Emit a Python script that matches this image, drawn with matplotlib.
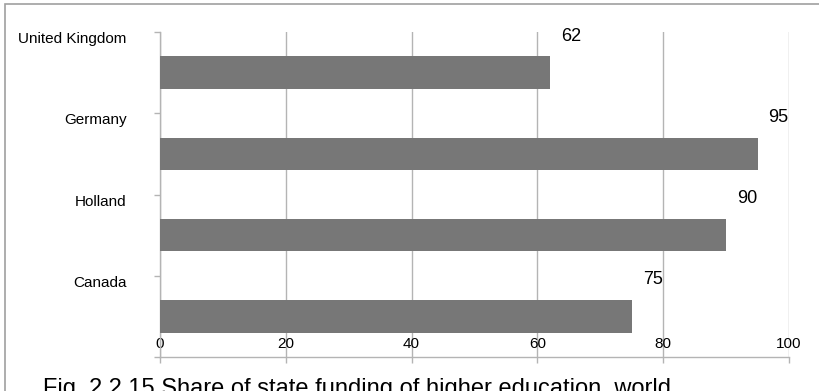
import matplotlib.pyplot as plt
from matplotlib.patches import Rectangle

plt.rcParams['font.family'] = ['Liberation Sans', 'DejaVu Sans']

countries = ['United Kingdom', 'Germany', 'Holland', 'Canada']
share = [62, 95, 90, 75]
caption = 'Fig. 2.2.15 Share of state funding of higher education, world'

grey_line = '#b4b4b4'
bar_col = '#777777'

fig = plt.figure(figsize=(8.19, 3.91), dpi=100)
W, H = 819, 391
ax = fig.add_axes([160 / W, (H - 357) / H, (789 - 160) / W, (357 - 32) / H])

# slots from bottom: Canada in [0,1], ..., United Kingdom in [3,4]
n = len(countries)
slot = [n - 1 - i for i in range(n)]
centers = [s + 0.5 for s in slot]
ax.barh(centers, share, height=0.4, color=bar_col, zorder=3)

for s, v in zip(slot, share):
    ax.annotate(str(v), xy=(v, s + 1), xytext=(15, -3), textcoords='offset points',
                ha='center', va='center', fontsize=13, color='black', zorder=4)

ax.set_xlim(0, 100)
ax.set_ylim(0, n)
ax.set_xticks(range(0, 101, 20))
ax.set_yticks(range(0, n + 1))
ax.set_yticklabels([''] + [countries[n - k] for k in range(1, n + 1)])

ax.grid(axis='x', color=grey_line, lw=1.0, zorder=0)
for side in ['top', 'right']:
    ax.spines[side].set_visible(False)
for side in ['left', 'bottom']:
    ax.spines[side].set_color(grey_line)
    ax.spines[side].set_linewidth(1.0)

ax.tick_params(axis='x', length=4, width=1.0, color=grey_line, direction='out',
               pad=-18.5, labelsize=11)
ax.tick_params(axis='y', length=4, width=1.0, color=grey_line, direction='out',
               pad=20, labelsize=11)
for lab in ax.get_yticklabels():
    lab.set_verticalalignment('top')

# outer frame of the figure panel
fig.patches.append(Rectangle((5 / W, -0.1), 1.2, (H - 4) / H + 0.1,
                             transform=fig.transFigure, fill=False,
                             edgecolor='#a0a0a0', lw=1.2))

fig.text(43 / W, (H - 395) / H, caption, fontsize=17, ha='left', va='baseline')

fig.savefig('out.png', dpi=100)
